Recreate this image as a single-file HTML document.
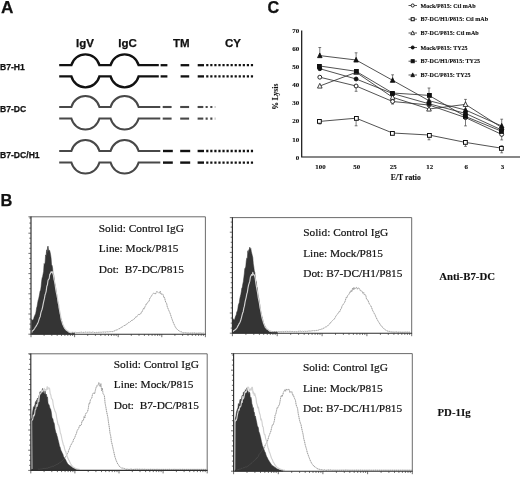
<!DOCTYPE html>
<html><head><meta charset="utf-8"><title>Figure</title>
<style>
html,body{margin:0;padding:0;background:#fff;}
svg{display:block}
.sb{font-family:"Liberation Sans",sans-serif;font-weight:bold;fill:#111;stroke:#111;stroke-width:0.25px}
.tb{font-family:"Liberation Serif",serif;font-weight:bold;fill:#111;stroke:#111;stroke-width:0.12px}
.tr{white-space:pre;font-family:"Liberation Serif",serif;fill:#111;stroke:#111;stroke-width:0.2px}
</style></head><body>
<svg width="520" height="478" viewBox="0 0 520 478">
<rect width="520" height="478" fill="#fff"/>

<text class="sb" x="1" y="13.4" font-size="17.2">A</text>
<text class="sb" x="0.6" y="206.1" font-size="16.4">B</text>
<text class="sb" x="267.4" y="12.9" font-size="16.2">C</text>
<text class="sb" x="76" y="47" font-size="11.5">IgV</text>
<text class="sb" x="118.3" y="47" font-size="11.5">IgC</text>
<text class="sb" x="173" y="47" font-size="11.5">TM</text>
<text class="sb" x="225" y="47" font-size="11.5">CY</text>
<text class="sb" x="0" y="70.3" font-size="8.6">B7-H1</text>
<text class="sb" x="0" y="112.2" font-size="8.6">B7-DC</text>
<text class="sb" x="0" y="158.3" font-size="8.6">B7-DC/H1</text>
<path d="M59.2,65.2 L71.40,65.2 A14.440825688073394,14.440825688073394 0 0 1 99.40,65.2 L110.60,65.2 A14.440825688073394,14.440825688073394 0 0 1 138.60,65.2 L158.8,65.2" fill="none" stroke="#111" stroke-width="2.3" stroke-linejoin="miter"/>
<line x1="160.6" y1="65.2" x2="167.4" y2="65.2" stroke="#111" stroke-width="2.3"/>
<line x1="180.6" y1="65.2" x2="189.2" y2="65.2" stroke="#111" stroke-width="2.3"/>
<line x1="197.7" y1="65.2" x2="204" y2="65.2" stroke="#111" stroke-width="2.3"/>
<line x1="206.2" y1="65.2" x2="253.2" y2="65.2" stroke="#111" stroke-width="2.3" stroke-dasharray="2.2 1.86"/>
<path d="M59.2,76.4 L71.40,76.4 A14.440825688073394,14.440825688073394 0 0 0 99.40,76.4 L110.60,76.4 A14.440825688073394,14.440825688073394 0 0 0 138.60,76.4 L158.8,76.4" fill="none" stroke="#111" stroke-width="2.3" stroke-linejoin="miter"/>
<line x1="160.6" y1="76.4" x2="167.4" y2="76.4" stroke="#111" stroke-width="2.3"/>
<line x1="180.6" y1="76.4" x2="189.2" y2="76.4" stroke="#111" stroke-width="2.3"/>
<line x1="197.7" y1="76.4" x2="204" y2="76.4" stroke="#111" stroke-width="2.3"/>
<line x1="206.2" y1="76.4" x2="253.2" y2="76.4" stroke="#111" stroke-width="2.3" stroke-dasharray="2.2 1.86"/>
<path d="M59.2,107 L71.40,107 A14.440825688073394,14.440825688073394 0 0 1 99.40,107 L110.60,107 A14.440825688073394,14.440825688073394 0 0 1 138.60,107 L160.3,107" fill="none" stroke="#484848" stroke-width="2.0" stroke-linejoin="miter"/>
<line x1="162.7" y1="107" x2="171.6" y2="107" stroke="#484848" stroke-width="2.1"/>
<line x1="180.2" y1="107" x2="189.1" y2="107" stroke="#484848" stroke-width="2.1"/>
<line x1="197.6" y1="107" x2="203.3" y2="107" stroke="#484848" stroke-width="2.1"/>
<line x1="205.6" y1="107" x2="212.6" y2="107" stroke="#484848" stroke-width="2.1" stroke-dasharray="2.1 2.6"/>
<line x1="214.6" y1="107" x2="215.6" y2="107" stroke="#bbb" stroke-width="2.1"/>
<path d="M59.2,118.6 L71.40,118.6 A14.440825688073394,14.440825688073394 0 0 0 99.40,118.6 L110.60,118.6 A14.440825688073394,14.440825688073394 0 0 0 138.60,118.6 L160.3,118.6" fill="none" stroke="#484848" stroke-width="2.0" stroke-linejoin="miter"/>
<line x1="162.7" y1="118.6" x2="171.6" y2="118.6" stroke="#484848" stroke-width="2.1"/>
<line x1="180.2" y1="118.6" x2="189.1" y2="118.6" stroke="#484848" stroke-width="2.1"/>
<line x1="197.6" y1="118.6" x2="203.3" y2="118.6" stroke="#484848" stroke-width="2.1"/>
<line x1="205.6" y1="118.6" x2="212.6" y2="118.6" stroke="#484848" stroke-width="2.1" stroke-dasharray="2.1 2.6"/>
<line x1="214.6" y1="118.6" x2="215.6" y2="118.6" stroke="#bbb" stroke-width="2.1"/>
<path d="M59.2,151 L71.40,151 A14.440825688073394,14.440825688073394 0 0 1 99.40,151 L110.60,151 A14.440825688073394,14.440825688073394 0 0 1 138.60,151 L160.3,151" fill="none" stroke="#484848" stroke-width="2.0" stroke-linejoin="miter"/>
<line x1="163" y1="151" x2="172.8" y2="151" stroke="#111" stroke-width="2.4"/>
<line x1="180.2" y1="151" x2="190.2" y2="151" stroke="#111" stroke-width="2.4"/>
<line x1="197.6" y1="151" x2="204" y2="151" stroke="#111" stroke-width="2.4"/>
<line x1="206.2" y1="151" x2="253.2" y2="151" stroke="#111" stroke-width="2.4" stroke-dasharray="2.2 1.86"/>
<path d="M59.2,162.6 L71.40,162.6 A14.440825688073394,14.440825688073394 0 0 0 99.40,162.6 L110.60,162.6 A14.440825688073394,14.440825688073394 0 0 0 138.60,162.6 L160.3,162.6" fill="none" stroke="#484848" stroke-width="2.0" stroke-linejoin="miter"/>
<line x1="163" y1="162.6" x2="172.8" y2="162.6" stroke="#111" stroke-width="2.4"/>
<line x1="180.2" y1="162.6" x2="190.2" y2="162.6" stroke="#111" stroke-width="2.4"/>
<line x1="197.6" y1="162.6" x2="204" y2="162.6" stroke="#111" stroke-width="2.4"/>
<line x1="206.2" y1="162.6" x2="253.2" y2="162.6" stroke="#111" stroke-width="2.4" stroke-dasharray="2.2 1.86"/>
<path d="M301.7,30.5 V157.0 H520" fill="none" stroke="#111" stroke-width="1.2"/>
<text class="tb" x="299.3" y="159.7" font-size="7" text-anchor="end">0</text>
<text class="tb" x="299.3" y="141.5" font-size="7" text-anchor="end">10</text>
<text class="tb" x="299.3" y="123.4" font-size="7" text-anchor="end">20</text>
<text class="tb" x="299.3" y="105.3" font-size="7" text-anchor="end">30</text>
<text class="tb" x="299.3" y="87.1" font-size="7" text-anchor="end">40</text>
<text class="tb" x="299.3" y="69.0" font-size="7" text-anchor="end">50</text>
<text class="tb" x="299.3" y="50.8" font-size="7" text-anchor="end">60</text>
<text class="tb" x="299.3" y="32.7" font-size="7" text-anchor="end">70</text>
<text class="tb" x="320.5" y="168.6" font-size="6.9" text-anchor="middle">100</text>
<text class="tb" x="356.8" y="168.6" font-size="6.9" text-anchor="middle">50</text>
<text class="tb" x="393.3" y="168.6" font-size="6.9" text-anchor="middle">25</text>
<text class="tb" x="429.7" y="168.6" font-size="6.9" text-anchor="middle">12</text>
<text class="tb" x="466.2" y="168.6" font-size="6.9" text-anchor="middle">6</text>
<text class="tb" x="502.4" y="168.6" font-size="6.9" text-anchor="middle">3</text>
<text class="tb" x="405.8" y="180" font-size="7.7" text-anchor="middle">E/T ratio</text>
<text class="tb" transform="translate(277.6,96.7) rotate(-90)" font-size="7.7" text-anchor="middle">% Lysis</text>
<path d="M356.1,86 V91.3 M354.70000000000005,91.3 h2.8 " stroke="#444" stroke-width="0.7" fill="none"/>
<path d="M392.6,101.5 V104.1 M391.20000000000005,104.1 h2.8 " stroke="#444" stroke-width="0.7" fill="none"/>
<path d="M501.7,134.4 V139.9 M500.3,139.9 h2.8 " stroke="#444" stroke-width="0.7" fill="none"/>
<path d="M319.8,121.4 V124.0 M318.40000000000003,124.0 h2.8 " stroke="#444" stroke-width="0.7" fill="none"/>
<path d="M356.1,118.2 V125.8 M354.70000000000005,125.8 h2.8 " stroke="#444" stroke-width="0.7" fill="none"/>
<path d="M429,135 V139.8 M427.6,139.8 h2.8 " stroke="#444" stroke-width="0.7" fill="none"/>
<path d="M465.5,142.4 V146.4 M464.1,146.4 h2.8 " stroke="#444" stroke-width="0.7" fill="none"/>
<path d="M501.7,148.2 V145.7 M500.3,145.7 h2.8 M501.7,148.2 V152.8 M500.3,152.8 h2.8 " stroke="#444" stroke-width="0.7" fill="none"/>
<path d="M465.5,104.4 V99.4 M464.1,99.4 h2.8 " stroke="#444" stroke-width="0.7" fill="none"/>
<path d="M429,95.4 V88.0 M427.6,88.0 h2.8 " stroke="#444" stroke-width="0.7" fill="none"/>
<path d="M465.5,116.5 V125.9 M464.1,125.9 h2.8 " stroke="#444" stroke-width="0.7" fill="none"/>
<path d="M319.8,55.6 V47.5 M318.40000000000003,47.5 h2.8 " stroke="#444" stroke-width="0.7" fill="none"/>
<path d="M356.1,60 V52.8 M354.70000000000005,52.8 h2.8 " stroke="#444" stroke-width="0.7" fill="none"/>
<path d="M392.6,80.3 V74.8 M391.20000000000005,74.8 h2.8 " stroke="#444" stroke-width="0.7" fill="none"/>
<path d="M501.7,126 V119.2 M500.3,119.2 h2.8 " stroke="#444" stroke-width="0.7" fill="none"/>
<polyline points="319.8,77.2 356.1,86 392.6,101.5 429,105 465.5,117.6 501.7,134.4" fill="none" stroke="#333" stroke-width="0.85"/>
<polyline points="319.8,121.4 356.1,118.2 392.6,133 429,135 465.5,142.4 501.7,148.2" fill="none" stroke="#333" stroke-width="0.85"/>
<polyline points="319.8,86 356.1,72.3 392.6,97.3 429,109 465.5,104.4 501.7,127.5" fill="none" stroke="#333" stroke-width="0.85"/>
<polyline points="319.8,68.7 356.1,79 392.6,93.5 429,103.8 465.5,113.4 501.7,130" fill="none" stroke="#333" stroke-width="0.85"/>
<polyline points="319.8,66 356.1,71.3 392.6,93 429,95.4 465.5,116.5 501.7,131.3" fill="none" stroke="#333" stroke-width="0.85"/>
<polyline points="319.8,55.6 356.1,60 392.6,80.3 429,100.7 465.5,110 501.7,126" fill="none" stroke="#333" stroke-width="0.85"/>
<circle cx="319.8" cy="77.2" r="1.95" fill="#fff" stroke="#111" stroke-width="0.9"/>
<circle cx="356.1" cy="86" r="1.95" fill="#fff" stroke="#111" stroke-width="0.9"/>
<circle cx="392.6" cy="101.5" r="1.95" fill="#fff" stroke="#111" stroke-width="0.9"/>
<circle cx="429" cy="105" r="1.95" fill="#fff" stroke="#111" stroke-width="0.9"/>
<circle cx="465.5" cy="117.6" r="1.95" fill="#fff" stroke="#111" stroke-width="0.9"/>
<circle cx="501.7" cy="134.4" r="1.95" fill="#fff" stroke="#111" stroke-width="0.9"/>
<rect x="317.50" y="119.50" width="3.80" height="3.80" fill="#fff" stroke="#111" stroke-width="1"/>
<rect x="354.50" y="116.50" width="3.80" height="3.80" fill="#fff" stroke="#111" stroke-width="1"/>
<rect x="390.50" y="131.50" width="3.80" height="3.80" fill="#fff" stroke="#111" stroke-width="1"/>
<rect x="427.50" y="133.50" width="3.80" height="3.80" fill="#fff" stroke="#111" stroke-width="1"/>
<rect x="463.50" y="140.50" width="3.80" height="3.80" fill="#fff" stroke="#111" stroke-width="1"/>
<rect x="499.50" y="146.50" width="3.80" height="3.80" fill="#fff" stroke="#111" stroke-width="1"/>
<path d="M319.8,83.36 L322.10,88.07 L317.50,88.07 Z" fill="#fff" stroke="#111" stroke-width="0.8"/>
<path d="M356.1,69.66 L358.40,74.37 L353.80,74.37 Z" fill="#fff" stroke="#111" stroke-width="0.8"/>
<path d="M392.6,94.66 L394.90,99.37 L390.30,99.37 Z" fill="#fff" stroke="#111" stroke-width="0.8"/>
<path d="M429,106.36 L431.30,111.07 L426.70,111.07 Z" fill="#fff" stroke="#111" stroke-width="0.8"/>
<path d="M465.5,101.76 L467.80,106.47 L463.20,106.47 Z" fill="#fff" stroke="#111" stroke-width="0.8"/>
<path d="M501.7,124.86 L504.00,129.57 L499.40,129.57 Z" fill="#fff" stroke="#111" stroke-width="0.8"/>
<circle cx="319.8" cy="68.7" r="1.95" fill="#111" stroke="#111" stroke-width="0.9"/>
<circle cx="356.1" cy="79" r="1.95" fill="#111" stroke="#111" stroke-width="0.9"/>
<circle cx="392.6" cy="93.5" r="1.95" fill="#111" stroke="#111" stroke-width="0.9"/>
<circle cx="429" cy="103.8" r="1.95" fill="#111" stroke="#111" stroke-width="0.9"/>
<circle cx="465.5" cy="113.4" r="1.95" fill="#111" stroke="#111" stroke-width="0.9"/>
<circle cx="501.7" cy="130" r="1.95" fill="#111" stroke="#111" stroke-width="0.9"/>
<rect x="317.50" y="64.50" width="3.80" height="3.80" fill="#111" stroke="#111" stroke-width="1"/>
<rect x="354.50" y="69.50" width="3.80" height="3.80" fill="#111" stroke="#111" stroke-width="1"/>
<rect x="390.50" y="91.50" width="3.80" height="3.80" fill="#111" stroke="#111" stroke-width="1"/>
<rect x="427.50" y="93.50" width="3.80" height="3.80" fill="#111" stroke="#111" stroke-width="1"/>
<rect x="463.50" y="114.50" width="3.80" height="3.80" fill="#111" stroke="#111" stroke-width="1"/>
<rect x="499.50" y="129.50" width="3.80" height="3.80" fill="#111" stroke="#111" stroke-width="1"/>
<path d="M319.8,52.95 L322.10,57.67 L317.50,57.67 Z" fill="#111" stroke="#111" stroke-width="0.8"/>
<path d="M356.1,57.36 L358.40,62.07 L353.80,62.07 Z" fill="#111" stroke="#111" stroke-width="0.8"/>
<path d="M392.6,77.66 L394.90,82.37 L390.30,82.37 Z" fill="#111" stroke="#111" stroke-width="0.8"/>
<path d="M429,98.06 L431.30,102.77 L426.70,102.77 Z" fill="#111" stroke="#111" stroke-width="0.8"/>
<path d="M465.5,107.36 L467.80,112.07 L463.20,112.07 Z" fill="#111" stroke="#111" stroke-width="0.8"/>
<path d="M501.7,123.36 L504.00,128.07 L499.40,128.07 Z" fill="#111" stroke="#111" stroke-width="0.8"/>
<line x1="408.5" y1="5.5" x2="417" y2="5.5" stroke="#111" stroke-width="0.7"/>
<circle cx="412.7" cy="5.5" r="1.56" fill="#fff" stroke="#111" stroke-width="0.9"/>
<text class="tb" x="420.5" y="7.6" font-size="6.05">Mock/P815: Ctl mAb</text>
<line x1="408.5" y1="19.2" x2="417" y2="19.2" stroke="#111" stroke-width="0.7"/>
<rect x="411.18" y="17.68" width="3.04" height="3.04" fill="#fff" stroke="#111" stroke-width="1"/>
<text class="tb" x="420.5" y="21.3" font-size="6.05">B7-DC/H1/P815: Ctl mAb</text>
<line x1="408.5" y1="33" x2="417" y2="33" stroke="#111" stroke-width="0.7"/>
<path d="M412.7,30.88 L414.54,34.66 L410.86,34.66 Z" fill="#fff" stroke="#111" stroke-width="0.8"/>
<text class="tb" x="420.5" y="35.1" font-size="6.05">B7-DC/P815: Ctl mAb</text>
<line x1="408.5" y1="47.5" x2="417" y2="47.5" stroke="#111" stroke-width="0.7"/>
<circle cx="412.7" cy="47.5" r="1.56" fill="#111" stroke="#111" stroke-width="0.9"/>
<text class="tb" x="420.5" y="49.6" font-size="6.05">Mock/P815: TY25</text>
<line x1="408.5" y1="61.2" x2="417" y2="61.2" stroke="#111" stroke-width="0.7"/>
<rect x="411.18" y="59.68" width="3.04" height="3.04" fill="#111" stroke="#111" stroke-width="1"/>
<text class="tb" x="420.5" y="63.300000000000004" font-size="6.05">B7-DC/H1/P815: TY25</text>
<line x1="408.5" y1="75" x2="417" y2="75" stroke="#111" stroke-width="0.7"/>
<path d="M412.7,72.88 L414.54,76.66 L410.86,76.66 Z" fill="#111" stroke="#111" stroke-width="0.8"/>
<text class="tb" x="420.5" y="77.1" font-size="6.05">B7-DC/P815: TY25</text>
<path d="M70.0,332.7 L70.7,332.8 L71.4,332.4 L72.1,332.4 L72.8,332.3 L73.5,332.4 L74.2,332.4 L74.9,332.5 L75.6,332.3 L76.3,332.6 L77.0,332.6 L77.7,332.5 L78.4,332.5 L79.1,332.5 L79.8,332.4 L80.5,332.3 L81.2,332.3 L81.9,332.1 L82.6,332.5 L83.3,332.4 L84.0,332.4 L84.7,332.4 L85.4,332.1 L86.1,332.3 L86.8,332.3 L87.5,332.3 L88.2,332.3 L88.9,332.2 L89.6,332.2 L90.3,332.3 L91.0,332.3 L91.7,332.5 L92.4,332.1 L93.1,332.5 L93.8,332.1 L94.5,332.5 L95.2,332.5 L95.9,332.5 L96.6,332.4 L97.3,332.5 L98.0,332.4 L98.7,332.3 L99.4,332.3 L100.1,332.4 L100.8,332.1 L101.5,332.3 L102.2,332.0 L102.9,332.2 L103.6,332.1 L104.3,332.0 L105.0,331.8 L105.7,332.2 L106.4,331.8 L107.1,331.9 L107.8,331.8 L108.5,331.9 L109.2,331.6 L109.9,331.9 L110.6,331.6 L111.3,331.5 L112.0,331.5 L112.7,331.6 L113.4,331.3 L114.1,331.0 L114.8,330.7 L115.5,330.3 L116.2,330.1 L116.9,329.8 L117.6,329.6 L118.3,329.0 L119.0,328.8 L119.7,328.5 L120.4,327.9 L121.1,327.5 L121.8,327.2 L122.5,326.8 L123.2,326.3 L123.9,325.6 L124.6,325.5 L125.3,325.6 L126.0,324.4 L126.7,324.1 L127.4,323.8 L128.1,323.1 L128.8,322.3 L129.5,322.4 L130.2,321.7 L130.9,321.3 L131.6,320.5 L132.3,320.5 L133.0,319.8 L133.7,318.9 L134.4,318.7 L135.1,318.1 L135.8,316.9 L136.5,317.1 L137.2,316.1 L137.9,315.1 L138.6,314.2 L139.3,314.5 L140.0,314.2 L140.7,313.9 L141.4,312.1 L142.1,311.8 L142.8,310.0 L143.5,308.4 L144.2,309.0 L144.9,306.8 L145.6,305.7 L146.3,303.8 L147.0,303.6 L147.7,302.1 L148.4,301.9 L149.1,301.1 L149.8,298.4 L150.5,297.5 L151.2,296.4 L151.9,295.3 L152.6,294.2 L153.3,293.4 L154.0,292.9 L154.7,293.6 L155.4,294.1 L156.1,292.8 L156.8,291.4 L157.5,292.1 L158.2,292.7 L158.9,292.6 L159.6,292.8 L160.3,291.3 L161.0,294.4 L161.7,294.1 L162.4,294.2 L163.1,294.5 L163.8,297.5 L164.5,297.4 L165.2,300.4 L165.9,302.8 L166.6,303.2 L167.3,306.8 L168.0,308.5 L168.7,310.2 L169.4,311.7 L170.1,313.3 L170.8,315.5 L171.5,317.7 L172.2,319.6 L172.9,321.5 L173.6,323.3 L174.3,324.7 L175.0,326.3 L175.7,327.5 L176.4,328.7 L177.1,329.2 L177.8,329.7 L178.5,330.5 L179.2,331.2 L179.9,331.2 L180.6,331.8 L181.3,331.8 L182.0,332.1 L182.7,332.7 L183.4,332.8 L184.1,332.6 L184.8,332.6 L185.5,332.7 L186.2,332.9 L186.9,332.8 L187.6,333.0 L188.3,332.8 L189.0,333.2 L189.7,333.1 L190.4,333.1 L191.1,332.8 L191.8,333.1 L192.5,333.0 L193.2,332.9 L193.9,333.0 L194.6,332.9 L195.3,333.1 L196.0,333.2 L196.7,333.2 L197.4,333.2 L198.1,333.2 L198.8,333.0 L199.5,333.0 L200.2,332.9 L200.9,333.0 L201.6,333.2 L202.3,333.2 L203.0,333.1 L203.7,332.9" fill="none" stroke="#8c8c8c" stroke-width="0.8" stroke-linejoin="round" stroke-dasharray="1.3 0.6"/>
<path d="M31.6,334.2 L31.6,319.4 L32.1,320.2 L32.6,320.0 L33.1,319.5 L33.6,319.3 L34.1,317.1 L34.6,315.9 L35.1,314.7 L35.6,313.8 L36.1,311.3 L36.6,308.0 L37.1,306.3 L37.6,303.2 L38.1,300.4 L38.6,299.0 L39.1,296.6 L39.6,294.0 L40.1,291.0 L40.6,290.2 L41.1,286.6 L41.6,281.4 L42.1,277.9 L42.6,276.7 L43.1,273.9 L43.6,271.4 L44.1,263.5 L44.6,264.9 L45.1,262.4 L45.6,254.9 L46.1,255.9 L46.6,249.8 L47.1,253.1 L47.6,246.7 L48.1,246.1 L48.6,250.5 L49.1,250.3 L49.6,250.3 L50.1,252.2 L50.6,254.7 L51.1,258.2 L51.6,265.3 L52.1,265.3 L52.6,267.9 L53.1,274.0 L53.6,274.3 L54.1,277.7 L54.6,283.1 L55.1,284.5 L55.6,287.3 L56.1,291.0 L56.6,294.4 L57.1,298.9 L57.6,301.1 L58.1,302.9 L58.6,307.7 L59.1,309.2 L59.6,313.1 L60.1,314.9 L60.6,317.7 L61.1,319.0 L61.6,320.8 L62.1,322.5 L62.6,324.3 L63.1,325.6 L63.6,326.8 L64.1,327.6 L64.6,328.9 L65.1,329.2 L65.6,329.9 L66.1,330.3 L66.6,330.8 L67.1,331.3 L67.6,331.6 L68.1,332.3 L68.6,332.4 L69.1,332.6 L69.6,332.5 L70.1,333.1 L70.6,333.2 L71.1,333.2 L71.6,333.2 L72.1,333.2 L72.6,333.2 L73.1,333.2 L73.6,333.2 L74.1,333.2 L74.6,333.2 L74.6,334.2 Z" fill="#343434" stroke="#343434" stroke-width="0.5"/>
<path d="M70.0,332.7 L70.7,332.8 L71.4,332.4 L72.1,332.4 L72.8,332.3 L73.5,332.4 L74.2,332.4 L74.9,332.5 L75.6,332.3 L76.3,332.6 L77.0,332.6 L77.7,332.5 L78.4,332.5 L79.1,332.5 L79.8,332.4 L80.5,332.3 L81.2,332.3 L81.9,332.1 L82.6,332.5 L83.3,332.4 L84.0,332.4 L84.7,332.4 L85.4,332.1 L86.1,332.3 L86.8,332.3 L87.5,332.3 L88.2,332.3 L88.9,332.2 L89.6,332.2 L90.3,332.3 L91.0,332.3 L91.7,332.5 L92.4,332.1 L93.1,332.5 L93.8,332.1 L94.5,332.5 L95.2,332.5 L95.9,332.5 L96.6,332.4 L97.3,332.5 L98.0,332.4 L98.7,332.3 L99.4,332.3 L100.1,332.4 L100.8,332.1 L101.5,332.3 L102.2,332.0 L102.9,332.2 L103.6,332.1 L104.3,332.0 L105.0,331.8 L105.7,332.2 L106.4,331.8 L107.1,331.9 L107.8,331.8 L108.5,331.9 L109.2,331.6 L109.9,331.9 L110.6,331.6 L111.3,331.5 L112.0,331.5 L112.7,331.6 L113.4,331.3 L114.1,331.0 L114.8,330.7 L115.5,330.3 L116.2,330.1 L116.9,329.8 L117.6,329.6 L118.3,329.0 L119.0,328.8 L119.7,328.5 L120.4,327.9 L121.1,327.5 L121.8,327.2 L122.5,326.8 L123.2,326.3 L123.9,325.6 L124.6,325.5 L125.3,325.6 L126.0,324.4 L126.7,324.1 L127.4,323.8 L128.1,323.1 L128.8,322.3 L129.5,322.4 L130.2,321.7 L130.9,321.3 L131.6,320.5 L132.3,320.5 L133.0,319.8 L133.7,318.9 L134.4,318.7 L135.1,318.1 L135.8,316.9 L136.5,317.1 L137.2,316.1 L137.9,315.1 L138.6,314.2 L139.3,314.5 L140.0,314.2 L140.7,313.9 L141.4,312.1 L142.1,311.8 L142.8,310.0 L143.5,308.4 L144.2,309.0 L144.9,306.8 L145.6,305.7 L146.3,303.8 L147.0,303.6 L147.7,302.1 L148.4,301.9 L149.1,301.1 L149.8,298.4 L150.5,297.5 L151.2,296.4 L151.9,295.3 L152.6,294.2 L153.3,293.4 L154.0,292.9 L154.7,293.6 L155.4,294.1 L156.1,292.8 L156.8,291.4 L157.5,292.1 L158.2,292.7 L158.9,292.6 L159.6,292.8 L160.3,291.3 L161.0,294.4 L161.7,294.1 L162.4,294.2 L163.1,294.5 L163.8,297.5 L164.5,297.4 L165.2,300.4 L165.9,302.8 L166.6,303.2 L167.3,306.8 L168.0,308.5 L168.7,310.2 L169.4,311.7 L170.1,313.3 L170.8,315.5 L171.5,317.7 L172.2,319.6 L172.9,321.5 L173.6,323.3 L174.3,324.7 L175.0,326.3 L175.7,327.5 L176.4,328.7 L177.1,329.2 L177.8,329.7 L178.5,330.5 L179.2,331.2 L179.9,331.2 L180.6,331.8 L181.3,331.8 L182.0,332.1 L182.7,332.7 L183.4,332.8 L184.1,332.6 L184.8,332.6 L185.5,332.7 L186.2,332.9 L186.9,332.8 L187.6,333.0 L188.3,332.8 L189.0,333.2 L189.7,333.1 L190.4,333.1 L191.1,332.8 L191.8,333.1 L192.5,333.0 L193.2,332.9 L193.9,333.0 L194.6,332.9 L195.3,333.1 L196.0,333.2 L196.7,333.2 L197.4,333.2 L198.1,333.2 L198.8,333.0 L199.5,333.0 L200.2,332.9 L200.9,333.0 L201.6,333.2 L202.3,333.2 L203.0,333.1 L203.7,332.9" fill="none" stroke="#8e8e8e" stroke-width="0.8" stroke-linejoin="round" opacity="0.22"/>
<path d="M32.1,332.7 L31.8,331.6 L32.4,331.0 L33.0,330.4 L33.6,330.0 L34.2,329.2 L34.8,328.3 L35.4,327.1 L36.0,326.4 L36.6,325.3 L37.2,324.2 L37.8,323.0 L38.4,321.7 L39.0,319.7 L39.6,317.8 L40.2,316.7 L40.8,313.2 L41.4,311.1 L42.0,309.5 L42.6,307.1 L43.2,303.8 L43.8,301.2 L44.4,298.7 L45.0,295.0 L45.6,293.4 L46.2,291.1 L46.8,286.3 L47.4,285.1 L48.0,280.4 L48.6,279.2 L49.2,278.8 L49.8,274.0 L50.4,274.0 L51.0,271.9 L51.6,272.3 L52.2,271.6 L52.8,273.5 L53.4,275.0 L54.0,279.3 L54.6,281.5 L55.2,285.3 L55.8,289.6 L56.4,292.8 L57.0,295.1 L57.6,298.6 L58.2,303.1 L58.8,304.8 L59.4,309.7 L60.0,312.3 L60.6,315.7 L61.2,319.7 L61.8,321.1 L62.4,323.3 L63.0,325.0 L63.6,326.0 L64.2,327.4 L64.8,328.4 L65.4,329.0 L66.0,329.8 L66.6,330.3 L67.2,330.7 L67.8,331.0 L68.4,331.3 L69.0,331.9 L69.6,332.3 L70.2,332.2 L70.8,332.7 L71.4,332.7 L72.0,332.9" fill="none" stroke="#d2d2d2" stroke-width="1.15" stroke-linejoin="round"/>
<path d="M31,216.8 H205.4 V334.2" fill="none" stroke="#5a5a5a" stroke-width="0.9"/>
<path d="M31,216.4 V334.2 H205.8" fill="none" stroke="#2e2e2e" stroke-width="1.15"/>
<path d="M31.0,334.2 v3.0 M44.1,334.2 v1.7 M51.8,334.2 v1.7 M57.2,334.2 v1.7 M61.5,334.2 v1.7 M64.9,334.2 v1.7 M67.8,334.2 v1.7 M70.4,334.2 v1.7 M72.6,334.2 v1.7 M74.6,334.2 v3.0 M87.7,334.2 v1.7 M95.4,334.2 v1.7 M100.8,334.2 v1.7 M105.1,334.2 v1.7 M108.5,334.2 v1.7 M111.4,334.2 v1.7 M114.0,334.2 v1.7 M116.2,334.2 v1.7 M118.2,334.2 v3.0 M131.3,334.2 v1.7 M139.0,334.2 v1.7 M144.4,334.2 v1.7 M148.7,334.2 v1.7 M152.1,334.2 v1.7 M155.0,334.2 v1.7 M157.6,334.2 v1.7 M159.8,334.2 v1.7 M161.8,334.2 v3.0 M174.9,334.2 v1.7 M182.6,334.2 v1.7 M188.0,334.2 v1.7 M192.3,334.2 v1.7 M195.7,334.2 v1.7 M198.6,334.2 v1.7 M201.2,334.2 v1.7 M203.4,334.2 v1.7 M205.4,334.2 v3.0" stroke="#333" stroke-width="0.7" fill="none"/>
<path d="M31,334.2 h-2.6 M31,329.1 h-1.7 M31,324.1 h-1.7 M31,319.0 h-1.7 M31,314.0 h-2.6 M31,308.9 h-1.7 M31,303.9 h-1.7 M31,298.8 h-1.7 M31,293.8 h-2.6 M31,288.7 h-1.7 M31,283.7 h-1.7 M31,278.6 h-1.7 M31,273.6 h-2.6 M31,268.5 h-1.7 M31,263.5 h-1.7 M31,258.4 h-1.7 M31,253.4 h-2.6 M31,248.3 h-1.7 M31,243.3 h-1.7 M31,238.2 h-1.7 M31,233.2 h-2.6 M31,228.1 h-1.7 M31,223.1 h-1.7 M31,218.0 h-1.7 M31,216.8 h-2.6" stroke="#333" stroke-width="0.7" fill="none"/>
<text class="tr" x="98.8" y="231.6" font-size="11.35">Solid: Control IgG</text>
<text class="tr" x="98.8" y="252" font-size="11.35">Line: Mock/P815</text>
<text class="tr" x="98.8" y="272.5" font-size="11.35">Dot:  B7-DC/P815</text>
<path d="M272.0,332.0 L272.7,331.6 L273.4,331.7 L274.1,331.6 L274.8,331.7 L275.5,331.7 L276.2,331.5 L276.9,331.7 L277.6,331.8 L278.3,331.5 L279.0,331.7 L279.7,331.7 L280.4,331.6 L281.1,331.6 L281.8,331.7 L282.5,331.4 L283.2,331.7 L283.9,331.6 L284.6,331.4 L285.3,331.5 L286.0,331.4 L286.7,331.3 L287.4,331.4 L288.1,331.7 L288.8,331.4 L289.5,331.4 L290.2,331.5 L290.9,331.3 L291.6,331.6 L292.3,331.4 L293.0,331.7 L293.7,331.7 L294.4,331.7 L295.1,331.4 L295.8,331.6 L296.5,331.7 L297.2,331.6 L297.9,331.6 L298.6,331.3 L299.3,331.3 L300.0,331.1 L300.7,331.2 L301.4,331.6 L302.1,331.1 L302.8,331.2 L303.5,331.5 L304.2,331.2 L304.9,331.3 L305.6,331.4 L306.3,331.4 L307.0,331.1 L307.7,331.3 L308.4,331.0 L309.1,331.0 L309.8,331.0 L310.5,331.1 L311.2,330.9 L311.9,330.9 L312.6,330.7 L313.3,330.6 L314.0,330.7 L314.7,330.7 L315.4,330.6 L316.1,330.3 L316.8,330.6 L317.5,330.4 L318.2,330.2 L318.9,329.9 L319.6,329.5 L320.3,329.5 L321.0,329.3 L321.7,329.0 L322.4,328.9 L323.1,328.5 L323.8,328.1 L324.5,327.8 L325.2,327.2 L325.9,326.8 L326.6,326.7 L327.3,326.0 L328.0,325.7 L328.7,324.9 L329.4,324.0 L330.1,323.0 L330.8,322.6 L331.5,321.6 L332.2,320.8 L332.9,320.3 L333.6,319.6 L334.3,318.8 L335.0,318.2 L335.7,316.4 L336.4,315.5 L337.1,314.6 L337.8,313.6 L338.5,312.9 L339.2,311.4 L339.9,311.5 L340.6,309.3 L341.3,308.8 L342.0,306.1 L342.7,305.0 L343.4,304.2 L344.1,303.0 L344.8,302.1 L345.5,300.0 L346.2,297.4 L346.9,297.8 L347.6,295.5 L348.3,294.9 L349.0,294.4 L349.7,292.2 L350.4,292.5 L351.1,290.4 L351.8,291.7 L352.5,288.3 L353.2,290.0 L353.9,287.3 L354.6,289.3 L355.3,288.2 L356.0,287.6 L356.7,287.4 L357.4,289.2 L358.1,288.0 L358.8,288.1 L359.5,288.6 L360.2,290.3 L360.9,291.2 L361.6,290.8 L362.3,291.7 L363.0,293.5 L363.7,292.6 L364.4,294.9 L365.1,294.7 L365.8,295.2 L366.5,299.1 L367.2,299.8 L367.9,300.0 L368.6,302.1 L369.3,303.7 L370.0,304.9 L370.7,305.6 L371.4,307.2 L372.1,308.9 L372.8,311.0 L373.5,311.8 L374.2,313.4 L374.9,314.3 L375.6,316.2 L376.3,317.8 L377.0,319.1 L377.7,320.5 L378.4,321.6 L379.1,323.0 L379.8,323.6 L380.5,325.2 L381.2,325.7 L381.9,326.2 L382.6,327.6 L383.3,328.2 L384.0,328.5 L384.7,329.4 L385.4,329.9 L386.1,330.4 L386.8,330.6 L387.5,331.0 L388.2,331.2 L388.9,331.4 L389.6,331.4 L390.3,331.8 L391.0,331.8 L391.7,331.9 L392.4,332.0 L393.1,331.9 L393.8,332.1 L394.5,332.1 L395.2,331.9 L395.9,332.1 L396.6,331.9 L397.3,332.2 L398.0,331.9 L398.7,332.2 L399.4,332.0 L400.1,332.2 L400.8,332.1 L401.5,332.2 L402.2,332.2 L402.9,332.2 L403.6,332.2 L404.3,332.2 L405.0,332.1 L405.7,332.0 L406.4,332.2 L407.1,332.0 L407.8,332.1 L408.5,332.2 L409.2,332.2 L409.9,332.0" fill="none" stroke="#8c8c8c" stroke-width="0.8" stroke-linejoin="round" stroke-dasharray="1.3 0.6"/>
<path d="M232.8,333.2 L232.8,318.4 L233.3,319.4 L233.8,319.5 L234.3,319.9 L234.8,318.8 L235.3,317.0 L235.8,315.8 L236.3,314.5 L236.8,311.8 L237.3,311.3 L237.8,309.0 L238.3,305.2 L238.8,303.7 L239.3,302.5 L239.8,298.7 L240.3,296.4 L240.8,294.6 L241.3,291.6 L241.8,288.1 L242.3,287.3 L242.8,283.9 L243.3,281.7 L243.8,277.7 L244.3,273.8 L244.8,268.4 L245.3,268.3 L245.8,266.2 L246.3,260.6 L246.8,258.0 L247.3,258.4 L247.8,250.7 L248.3,252.9 L248.8,249.7 L249.3,249.3 L249.8,247.1 L250.3,249.5 L250.8,248.3 L251.3,251.5 L251.8,253.5 L252.3,255.6 L252.8,257.6 L253.3,263.9 L253.8,266.7 L254.3,271.1 L254.8,272.2 L255.3,277.5 L255.8,280.3 L256.3,281.7 L256.8,286.6 L257.3,287.8 L257.8,293.0 L258.3,296.3 L258.8,298.4 L259.3,302.1 L259.8,304.9 L260.3,309.7 L260.8,311.8 L261.3,313.8 L261.8,316.2 L262.3,317.3 L262.8,320.2 L263.3,322.0 L263.8,323.4 L264.3,324.9 L264.8,325.9 L265.3,326.8 L265.8,327.9 L266.3,328.1 L266.8,328.9 L267.3,329.2 L267.8,330.0 L268.3,330.2 L268.8,330.4 L269.3,330.9 L269.8,331.4 L270.3,331.3 L270.8,331.5 L271.3,331.6 L271.8,331.7 L272.3,332.1 L272.8,331.8 L273.3,332.2 L273.8,332.2 L274.3,332.2 L274.8,332.2 L275.3,332.2 L275.8,332.2 L276.3,332.2 L276.8,332.2 L277.3,332.2 L277.3,333.2 Z" fill="#343434" stroke="#343434" stroke-width="0.5"/>
<path d="M272.0,332.0 L272.7,331.6 L273.4,331.7 L274.1,331.6 L274.8,331.7 L275.5,331.7 L276.2,331.5 L276.9,331.7 L277.6,331.8 L278.3,331.5 L279.0,331.7 L279.7,331.7 L280.4,331.6 L281.1,331.6 L281.8,331.7 L282.5,331.4 L283.2,331.7 L283.9,331.6 L284.6,331.4 L285.3,331.5 L286.0,331.4 L286.7,331.3 L287.4,331.4 L288.1,331.7 L288.8,331.4 L289.5,331.4 L290.2,331.5 L290.9,331.3 L291.6,331.6 L292.3,331.4 L293.0,331.7 L293.7,331.7 L294.4,331.7 L295.1,331.4 L295.8,331.6 L296.5,331.7 L297.2,331.6 L297.9,331.6 L298.6,331.3 L299.3,331.3 L300.0,331.1 L300.7,331.2 L301.4,331.6 L302.1,331.1 L302.8,331.2 L303.5,331.5 L304.2,331.2 L304.9,331.3 L305.6,331.4 L306.3,331.4 L307.0,331.1 L307.7,331.3 L308.4,331.0 L309.1,331.0 L309.8,331.0 L310.5,331.1 L311.2,330.9 L311.9,330.9 L312.6,330.7 L313.3,330.6 L314.0,330.7 L314.7,330.7 L315.4,330.6 L316.1,330.3 L316.8,330.6 L317.5,330.4 L318.2,330.2 L318.9,329.9 L319.6,329.5 L320.3,329.5 L321.0,329.3 L321.7,329.0 L322.4,328.9 L323.1,328.5 L323.8,328.1 L324.5,327.8 L325.2,327.2 L325.9,326.8 L326.6,326.7 L327.3,326.0 L328.0,325.7 L328.7,324.9 L329.4,324.0 L330.1,323.0 L330.8,322.6 L331.5,321.6 L332.2,320.8 L332.9,320.3 L333.6,319.6 L334.3,318.8 L335.0,318.2 L335.7,316.4 L336.4,315.5 L337.1,314.6 L337.8,313.6 L338.5,312.9 L339.2,311.4 L339.9,311.5 L340.6,309.3 L341.3,308.8 L342.0,306.1 L342.7,305.0 L343.4,304.2 L344.1,303.0 L344.8,302.1 L345.5,300.0 L346.2,297.4 L346.9,297.8 L347.6,295.5 L348.3,294.9 L349.0,294.4 L349.7,292.2 L350.4,292.5 L351.1,290.4 L351.8,291.7 L352.5,288.3 L353.2,290.0 L353.9,287.3 L354.6,289.3 L355.3,288.2 L356.0,287.6 L356.7,287.4 L357.4,289.2 L358.1,288.0 L358.8,288.1 L359.5,288.6 L360.2,290.3 L360.9,291.2 L361.6,290.8 L362.3,291.7 L363.0,293.5 L363.7,292.6 L364.4,294.9 L365.1,294.7 L365.8,295.2 L366.5,299.1 L367.2,299.8 L367.9,300.0 L368.6,302.1 L369.3,303.7 L370.0,304.9 L370.7,305.6 L371.4,307.2 L372.1,308.9 L372.8,311.0 L373.5,311.8 L374.2,313.4 L374.9,314.3 L375.6,316.2 L376.3,317.8 L377.0,319.1 L377.7,320.5 L378.4,321.6 L379.1,323.0 L379.8,323.6 L380.5,325.2 L381.2,325.7 L381.9,326.2 L382.6,327.6 L383.3,328.2 L384.0,328.5 L384.7,329.4 L385.4,329.9 L386.1,330.4 L386.8,330.6 L387.5,331.0 L388.2,331.2 L388.9,331.4 L389.6,331.4 L390.3,331.8 L391.0,331.8 L391.7,331.9 L392.4,332.0 L393.1,331.9 L393.8,332.1 L394.5,332.1 L395.2,331.9 L395.9,332.1 L396.6,331.9 L397.3,332.2 L398.0,331.9 L398.7,332.2 L399.4,332.0 L400.1,332.2 L400.8,332.1 L401.5,332.2 L402.2,332.2 L402.9,332.2 L403.6,332.2 L404.3,332.2 L405.0,332.1 L405.7,332.0 L406.4,332.2 L407.1,332.0 L407.8,332.1 L408.5,332.2 L409.2,332.2 L409.9,332.0" fill="none" stroke="#8e8e8e" stroke-width="0.8" stroke-linejoin="round" opacity="0.22"/>
<path d="M233.5,331.7 L233.0,330.8 L233.6,331.0 L234.2,330.3 L234.8,330.1 L235.4,329.5 L236.0,329.0 L236.6,328.4 L237.2,327.5 L237.8,326.0 L238.4,325.4 L239.0,323.8 L239.6,323.1 L240.2,321.8 L240.8,320.0 L241.4,317.9 L242.0,315.4 L242.6,313.1 L243.2,311.7 L243.8,308.2 L244.4,306.2 L245.0,302.4 L245.6,299.6 L246.2,297.3 L246.8,293.9 L247.4,292.2 L248.0,287.8 L248.6,284.9 L249.2,283.1 L249.8,281.2 L250.4,277.0 L251.0,275.8 L251.6,274.6 L252.2,275.3 L252.8,272.3 L253.4,274.8 L254.0,274.6 L254.6,275.8 L255.2,278.1 L255.8,282.9 L256.4,286.3 L257.0,289.8 L257.6,292.8 L258.2,297.3 L258.8,300.5 L259.4,303.2 L260.0,307.6 L260.6,310.0 L261.2,313.4 L261.8,316.8 L262.4,319.2 L263.0,320.8 L263.6,323.1 L264.2,324.6 L264.8,326.0 L265.4,327.4 L266.0,328.0 L266.6,328.8 L267.2,329.3 L267.8,329.6 L268.4,330.0 L269.0,330.6 L269.6,331.1 L270.2,331.0 L270.8,331.1 L271.4,331.5 L272.0,331.7 L272.6,331.6" fill="none" stroke="#d2d2d2" stroke-width="1.15" stroke-linejoin="round"/>
<path d="M232.4,217.6 H411.7 V333.2" fill="none" stroke="#5a5a5a" stroke-width="0.9"/>
<path d="M232.4,217.2 V333.2 H412.09999999999997" fill="none" stroke="#2e2e2e" stroke-width="1.15"/>
<path d="M232.4,333.2 v3.0 M245.9,333.2 v1.7 M253.8,333.2 v1.7 M259.4,333.2 v1.7 M263.7,333.2 v1.7 M267.3,333.2 v1.7 M270.3,333.2 v1.7 M272.9,333.2 v1.7 M275.2,333.2 v1.7 M277.2,333.2 v3.0 M290.7,333.2 v1.7 M298.6,333.2 v1.7 M304.2,333.2 v1.7 M308.6,333.2 v1.7 M312.1,333.2 v1.7 M315.1,333.2 v1.7 M317.7,333.2 v1.7 M320.0,333.2 v1.7 M322.1,333.2 v3.0 M335.5,333.2 v1.7 M343.4,333.2 v1.7 M349.0,333.2 v1.7 M353.4,333.2 v1.7 M356.9,333.2 v1.7 M359.9,333.2 v1.7 M362.5,333.2 v1.7 M364.8,333.2 v1.7 M366.9,333.2 v3.0 M380.4,333.2 v1.7 M388.3,333.2 v1.7 M393.9,333.2 v1.7 M398.2,333.2 v1.7 M401.8,333.2 v1.7 M404.8,333.2 v1.7 M407.4,333.2 v1.7 M409.6,333.2 v1.7 M411.7,333.2 v3.0" stroke="#333" stroke-width="0.7" fill="none"/>
<path d="M232.4,333.2 h-2.6 M232.4,328.1 h-1.7 M232.4,323.1 h-1.7 M232.4,318.0 h-1.7 M232.4,313.0 h-2.6 M232.4,307.9 h-1.7 M232.4,302.9 h-1.7 M232.4,297.8 h-1.7 M232.4,292.8 h-2.6 M232.4,287.7 h-1.7 M232.4,282.7 h-1.7 M232.4,277.6 h-1.7 M232.4,272.6 h-2.6 M232.4,267.5 h-1.7 M232.4,262.5 h-1.7 M232.4,257.4 h-1.7 M232.4,252.4 h-2.6 M232.4,247.3 h-1.7 M232.4,242.3 h-1.7 M232.4,237.2 h-1.7 M232.4,232.2 h-2.6 M232.4,227.1 h-1.7 M232.4,222.1 h-1.7 M232.4,217.6 h-2.6" stroke="#333" stroke-width="0.7" fill="none"/>
<text class="tr" x="303.2" y="236.4" font-size="11.35">Solid: Control IgG</text>
<text class="tr" x="303.2" y="256.6" font-size="11.35">Line: Mock/P815</text>
<text class="tr" x="303.2" y="277.3" font-size="11.35">Dot: B7-DC/H1/P815</text>
<path d="M37.9,469.4 L38.6,469.2 L39.3,469.4 L40.0,469.0 L40.7,469.1 L41.4,469.1 L42.1,468.8 L42.8,468.8 L43.5,468.5 L44.2,468.3 L44.9,468.6 L45.6,468.5 L46.3,468.3 L47.0,467.9 L47.7,468.2 L48.4,467.6 L49.1,467.8 L49.8,467.3 L50.5,467.0 L51.2,466.9 L51.9,466.6 L52.6,466.2 L53.3,466.3 L54.0,466.1 L54.7,465.4 L55.4,465.2 L56.1,464.8 L56.8,464.4 L57.5,464.2 L58.2,463.7 L58.9,463.5 L59.6,462.6 L60.3,462.3 L61.0,461.8 L61.7,461.2 L62.4,460.6 L63.1,459.9 L63.8,459.1 L64.5,458.5 L65.2,457.0 L65.9,456.7 L66.6,455.2 L67.3,453.7 L68.0,452.9 L68.7,450.3 L69.4,448.9 L70.1,446.8 L70.8,445.2 L71.5,444.1 L72.2,442.7 L72.9,441.9 L73.6,439.2 L74.3,438.8 L75.0,436.8 L75.7,434.9 L76.4,433.6 L77.1,430.8 L77.8,429.6 L78.5,428.8 L79.2,426.7 L79.9,424.9 L80.6,425.6 L81.3,425.1 L82.0,420.8 L82.7,420.8 L83.4,420.5 L84.1,416.5 L84.8,418.0 L85.5,414.0 L86.2,413.1 L86.9,412.6 L87.6,411.4 L88.3,408.5 L89.0,403.2 L89.7,403.8 L90.4,399.7 L91.1,399.1 L91.8,397.9 L92.5,394.4 L93.2,393.0 L93.9,393.0 L94.6,393.8 L95.3,390.6 L96.0,387.8 L96.7,385.8 L97.4,386.1 L98.1,385.1 L98.8,382.5 L99.5,384.4 L100.2,386.7 L100.9,383.6 L101.6,390.6 L102.3,388.1 L103.0,393.5 L103.7,394.5 L104.4,395.9 L105.1,403.2 L105.8,406.8 L106.5,411.0 L107.2,414.3 L107.9,417.7 L108.6,423.1 L109.3,427.2 L110.0,433.2 L110.7,435.9 L111.4,441.6 L112.1,444.2 L112.8,447.4 L113.5,450.6 L114.2,453.6 L114.9,456.8 L115.6,458.8 L116.3,460.9 L117.0,462.3 L117.7,464.0 L118.4,464.6 L119.1,466.2 L119.8,466.7 L120.5,467.3 L121.2,467.9 L121.9,467.9 L122.6,468.1 L123.3,468.2 L124.0,468.7 L124.7,468.6 L125.4,469.1 L126.1,469.2 L126.8,469.3 L127.5,469.1 L128.2,469.4 L128.9,469.3 L129.6,469.4 L130.3,469.1 L131.0,469.2 L131.7,469.2 L132.4,469.4 L133.1,469.4 L133.8,469.4 L134.5,469.2 L135.2,469.4 L135.9,469.1 L136.6,469.1 L137.3,469.2 L138.0,469.3 L138.7,469.3 L139.4,469.2 L140.1,469.1 L140.8,469.4 L141.5,469.3 L142.2,469.2 L142.9,469.3 L143.6,469.4 L144.3,469.2 L145.0,469.4 L145.7,469.3 L146.4,469.4 L147.1,469.4 L147.8,469.3 L148.5,469.4 L149.2,469.4 L149.9,469.4 L150.6,469.3 L151.3,469.4 L152.0,469.4 L152.7,469.4 L153.4,469.3 L154.1,469.4 L154.8,469.4 L155.5,469.4 L156.2,469.4 L156.9,469.3 L157.6,469.3 L158.3,469.4 L159.0,469.4 L159.7,469.4 L160.4,469.4 L161.1,469.4 L161.8,469.4 L162.5,469.4 L163.2,469.4 L163.9,469.4 L164.6,469.4 L165.3,469.4 L166.0,469.4 L166.7,469.4 L167.4,469.4 L168.1,469.4 L168.8,469.4 L169.5,469.3 L170.2,469.4 L170.9,469.4 L171.6,469.4 L172.3,469.4 L173.0,469.4 L173.7,469.4 L174.4,469.3 L175.1,469.4 L175.8,469.4 L176.5,469.4 L177.2,469.4 L177.9,469.4 L178.6,469.4 L179.3,469.3 L180.0,469.4 L180.7,469.4 L181.4,469.4 L182.1,469.4 L182.8,469.3 L183.5,469.4 L184.2,469.4 L184.9,469.4 L185.6,469.4 L186.3,469.4 L187.0,469.4 L187.7,469.4 L188.4,469.4 L189.1,469.4 L189.8,469.4 L190.5,469.4 L191.2,469.4 L191.9,469.4 L192.6,469.4 L193.3,469.4 L194.0,469.4 L194.7,469.4 L195.4,469.4 L196.1,469.4 L196.8,469.4 L197.5,469.4 L198.2,469.4 L198.9,469.4 L199.6,469.4 L200.3,469.4 L201.0,469.4 L201.7,469.4 L202.4,469.4 L203.1,469.4 L203.8,469.4 L204.5,469.4 L205.2,469.4 L205.9,469.4" fill="none" stroke="#8c8c8c" stroke-width="0.8" stroke-linejoin="round" stroke-dasharray="1.3 0.6"/>
<path d="M31.5,470.4 L31.5,419.3 L32.0,417.6 L32.5,412.8 L33.0,409.6 L33.5,406.7 L34.0,407.4 L34.5,405.8 L35.0,404.5 L35.5,401.5 L36.0,404.6 L36.5,400.1 L37.0,400.2 L37.5,398.0 L38.0,399.0 L38.5,399.9 L39.0,395.5 L39.5,397.3 L40.0,391.8 L40.5,395.3 L41.0,391.0 L41.5,392.9 L42.0,391.9 L42.5,388.4 L43.0,389.8 L43.5,391.6 L44.0,393.5 L44.5,394.0 L45.0,390.6 L45.5,393.5 L46.0,394.8 L46.5,394.2 L47.0,397.8 L47.5,396.9 L48.0,402.8 L48.5,404.8 L49.0,404.5 L49.5,406.3 L50.0,408.4 L50.5,408.8 L51.0,410.5 L51.5,413.6 L52.0,417.4 L52.5,418.2 L53.0,419.3 L53.5,422.5 L54.0,422.4 L54.5,425.1 L55.0,428.9 L55.5,430.7 L56.0,433.1 L56.5,433.5 L57.0,435.7 L57.5,437.2 L58.0,439.6 L58.5,441.4 L59.0,443.4 L59.5,446.2 L60.0,446.8 L60.5,449.0 L61.0,450.4 L61.5,451.3 L62.0,452.5 L62.5,453.4 L63.0,454.6 L63.5,456.5 L64.0,457.3 L64.5,458.0 L65.0,458.7 L65.5,459.6 L66.0,460.6 L66.5,461.8 L67.0,462.6 L67.5,463.6 L68.0,463.9 L68.5,464.6 L69.0,465.1 L69.5,465.3 L70.0,465.8 L70.5,465.9 L71.0,466.5 L71.5,466.9 L72.0,466.9 L72.5,467.4 L73.0,468.0 L73.5,467.9 L74.0,468.3 L74.5,468.6 L75.0,468.6 L75.5,469.2 L76.0,469.4 L76.5,469.3 L77.0,469.3 L77.5,469.4 L78.0,469.4 L78.5,469.4 L78.5,470.4 Z" fill="#343434" stroke="#343434" stroke-width="0.5"/>
<path d="M37.9,469.4 L38.6,469.2 L39.3,469.4 L40.0,469.0 L40.7,469.1 L41.4,469.1 L42.1,468.8 L42.8,468.8 L43.5,468.5 L44.2,468.3 L44.9,468.6 L45.6,468.5 L46.3,468.3 L47.0,467.9 L47.7,468.2 L48.4,467.6 L49.1,467.8 L49.8,467.3 L50.5,467.0 L51.2,466.9 L51.9,466.6 L52.6,466.2 L53.3,466.3 L54.0,466.1 L54.7,465.4 L55.4,465.2 L56.1,464.8 L56.8,464.4 L57.5,464.2 L58.2,463.7 L58.9,463.5 L59.6,462.6 L60.3,462.3 L61.0,461.8 L61.7,461.2 L62.4,460.6 L63.1,459.9 L63.8,459.1 L64.5,458.5 L65.2,457.0 L65.9,456.7 L66.6,455.2 L67.3,453.7 L68.0,452.9 L68.7,450.3 L69.4,448.9 L70.1,446.8 L70.8,445.2 L71.5,444.1 L72.2,442.7 L72.9,441.9 L73.6,439.2 L74.3,438.8 L75.0,436.8 L75.7,434.9 L76.4,433.6 L77.1,430.8 L77.8,429.6 L78.5,428.8 L79.2,426.7 L79.9,424.9 L80.6,425.6 L81.3,425.1 L82.0,420.8 L82.7,420.8 L83.4,420.5 L84.1,416.5 L84.8,418.0 L85.5,414.0 L86.2,413.1 L86.9,412.6 L87.6,411.4 L88.3,408.5 L89.0,403.2 L89.7,403.8 L90.4,399.7 L91.1,399.1 L91.8,397.9 L92.5,394.4 L93.2,393.0 L93.9,393.0 L94.6,393.8 L95.3,390.6 L96.0,387.8 L96.7,385.8 L97.4,386.1 L98.1,385.1 L98.8,382.5 L99.5,384.4 L100.2,386.7 L100.9,383.6 L101.6,390.6 L102.3,388.1 L103.0,393.5 L103.7,394.5 L104.4,395.9 L105.1,403.2 L105.8,406.8 L106.5,411.0 L107.2,414.3 L107.9,417.7 L108.6,423.1 L109.3,427.2 L110.0,433.2 L110.7,435.9 L111.4,441.6 L112.1,444.2 L112.8,447.4 L113.5,450.6 L114.2,453.6 L114.9,456.8 L115.6,458.8 L116.3,460.9 L117.0,462.3 L117.7,464.0 L118.4,464.6 L119.1,466.2 L119.8,466.7 L120.5,467.3 L121.2,467.9 L121.9,467.9 L122.6,468.1 L123.3,468.2 L124.0,468.7 L124.7,468.6 L125.4,469.1 L126.1,469.2 L126.8,469.3 L127.5,469.1 L128.2,469.4 L128.9,469.3 L129.6,469.4 L130.3,469.1 L131.0,469.2 L131.7,469.2 L132.4,469.4 L133.1,469.4 L133.8,469.4 L134.5,469.2 L135.2,469.4 L135.9,469.1 L136.6,469.1 L137.3,469.2 L138.0,469.3 L138.7,469.3 L139.4,469.2 L140.1,469.1 L140.8,469.4 L141.5,469.3 L142.2,469.2 L142.9,469.3 L143.6,469.4 L144.3,469.2 L145.0,469.4 L145.7,469.3 L146.4,469.4 L147.1,469.4 L147.8,469.3 L148.5,469.4 L149.2,469.4 L149.9,469.4 L150.6,469.3 L151.3,469.4 L152.0,469.4 L152.7,469.4 L153.4,469.3 L154.1,469.4 L154.8,469.4 L155.5,469.4 L156.2,469.4 L156.9,469.3 L157.6,469.3 L158.3,469.4 L159.0,469.4 L159.7,469.4 L160.4,469.4 L161.1,469.4 L161.8,469.4 L162.5,469.4 L163.2,469.4 L163.9,469.4 L164.6,469.4 L165.3,469.4 L166.0,469.4 L166.7,469.4 L167.4,469.4 L168.1,469.4 L168.8,469.4 L169.5,469.3 L170.2,469.4 L170.9,469.4 L171.6,469.4 L172.3,469.4 L173.0,469.4 L173.7,469.4 L174.4,469.3 L175.1,469.4 L175.8,469.4 L176.5,469.4 L177.2,469.4 L177.9,469.4 L178.6,469.4 L179.3,469.3 L180.0,469.4 L180.7,469.4 L181.4,469.4 L182.1,469.4 L182.8,469.3 L183.5,469.4 L184.2,469.4 L184.9,469.4 L185.6,469.4 L186.3,469.4 L187.0,469.4 L187.7,469.4 L188.4,469.4 L189.1,469.4 L189.8,469.4 L190.5,469.4 L191.2,469.4 L191.9,469.4 L192.6,469.4 L193.3,469.4 L194.0,469.4 L194.7,469.4 L195.4,469.4 L196.1,469.4 L196.8,469.4 L197.5,469.4 L198.2,469.4 L198.9,469.4 L199.6,469.4 L200.3,469.4 L201.0,469.4 L201.7,469.4 L202.4,469.4 L203.1,469.4 L203.8,469.4 L204.5,469.4 L205.2,469.4 L205.9,469.4" fill="none" stroke="#8e8e8e" stroke-width="0.8" stroke-linejoin="round" opacity="0.22"/>
<path d="M31.9,468.9 L31.6,420.6 L32.2,420.3 L32.8,419.0 L33.4,415.2 L34.0,415.8 L34.6,414.3 L35.2,409.5 L35.8,409.3 L36.4,404.5 L37.0,406.5 L37.6,404.9 L38.2,399.0 L38.8,401.6 L39.4,395.9 L40.0,393.7 L40.6,393.7 L41.2,392.4 L41.8,390.0 L42.4,391.8 L43.0,390.2 L43.6,389.7 L44.2,388.4 L44.8,389.6 L45.4,389.5 L46.0,390.1 L46.6,389.5 L47.2,386.5 L47.8,389.5 L48.4,387.9 L49.0,387.8 L49.6,388.5 L50.2,393.9 L50.8,394.8 L51.4,398.5 L52.0,399.0 L52.6,399.9 L53.2,404.5 L53.8,407.6 L54.4,409.1 L55.0,411.3 L55.6,412.1 L56.2,414.1 L56.8,418.7 L57.4,421.4 L58.0,424.6 L58.6,425.0 L59.2,427.0 L59.8,429.5 L60.4,433.3 L61.0,434.4 L61.6,437.5 L62.2,440.5 L62.8,442.5 L63.4,445.0 L64.0,445.9 L64.6,448.9 L65.2,450.7 L65.8,451.6 L66.4,454.7 L67.0,455.5 L67.6,457.6 L68.2,458.7 L68.8,460.1 L69.4,461.0 L70.0,462.6 L70.6,463.8 L71.2,464.4 L71.8,465.7 L72.4,466.0 L73.0,467.0 L73.6,467.3 L74.2,467.8 L74.8,467.9 L75.4,468.5 L76.0,468.5 L76.6,469.1 L77.2,469.0 L77.8,469.4 L78.4,469.4 L79.0,469.4 L79.6,469.4" fill="none" stroke="#d2d2d2" stroke-width="1.15" stroke-linejoin="round"/>
<path d="M30.8,353.8 H207.2 V470.4" fill="none" stroke="#5a5a5a" stroke-width="0.9"/>
<path d="M30.8,353.40000000000003 V470.4 H207.6" fill="none" stroke="#2e2e2e" stroke-width="1.15"/>
<path d="M30.8,470.4 v3.0 M44.1,470.4 v1.7 M51.8,470.4 v1.7 M57.4,470.4 v1.7 M61.6,470.4 v1.7 M65.1,470.4 v1.7 M68.1,470.4 v1.7 M70.6,470.4 v1.7 M72.9,470.4 v1.7 M74.9,470.4 v3.0 M88.2,470.4 v1.7 M95.9,470.4 v1.7 M101.5,470.4 v1.7 M105.7,470.4 v1.7 M109.2,470.4 v1.7 M112.2,470.4 v1.7 M114.7,470.4 v1.7 M117.0,470.4 v1.7 M119.0,470.4 v3.0 M132.3,470.4 v1.7 M140.0,470.4 v1.7 M145.6,470.4 v1.7 M149.8,470.4 v1.7 M153.3,470.4 v1.7 M156.3,470.4 v1.7 M158.8,470.4 v1.7 M161.1,470.4 v1.7 M163.1,470.4 v3.0 M176.4,470.4 v1.7 M184.1,470.4 v1.7 M189.7,470.4 v1.7 M193.9,470.4 v1.7 M197.4,470.4 v1.7 M200.4,470.4 v1.7 M202.9,470.4 v1.7 M205.2,470.4 v1.7 M207.2,470.4 v3.0" stroke="#333" stroke-width="0.7" fill="none"/>
<path d="M30.8,470.4 h-2.6 M30.8,465.3 h-1.7 M30.8,460.3 h-1.7 M30.8,455.2 h-1.7 M30.8,450.2 h-2.6 M30.8,445.1 h-1.7 M30.8,440.1 h-1.7 M30.8,435.0 h-1.7 M30.8,430.0 h-2.6 M30.8,424.9 h-1.7 M30.8,419.9 h-1.7 M30.8,414.8 h-1.7 M30.8,409.8 h-2.6 M30.8,404.7 h-1.7 M30.8,399.7 h-1.7 M30.8,394.6 h-1.7 M30.8,389.6 h-2.6 M30.8,384.5 h-1.7 M30.8,379.5 h-1.7 M30.8,374.4 h-1.7 M30.8,369.4 h-2.6 M30.8,364.3 h-1.7 M30.8,359.3 h-1.7 M30.8,354.2 h-1.7 M30.8,353.8 h-2.6" stroke="#333" stroke-width="0.7" fill="none"/>
<text class="tr" x="113.8" y="367.7" font-size="11.35">Solid: Control IgG</text>
<text class="tr" x="113.8" y="388.3" font-size="11.35">Line: Mock/P815</text>
<text class="tr" x="113.8" y="408.6" font-size="11.35">Dot:  B7-DC/P815</text>
<path d="M236.6,470.1 L237.3,469.8 L238.0,469.8 L238.7,469.4 L239.4,469.1 L240.1,469.1 L240.8,468.9 L241.5,468.3 L242.2,468.5 L242.9,467.8 L243.6,467.8 L244.3,467.7 L245.0,467.4 L245.7,466.9 L246.4,467.0 L247.1,466.5 L247.8,466.2 L248.5,465.7 L249.2,465.3 L249.9,464.3 L250.6,464.0 L251.3,463.3 L252.0,462.7 L252.7,462.0 L253.4,461.3 L254.1,460.8 L254.8,460.0 L255.5,459.8 L256.2,458.4 L256.9,458.3 L257.6,457.0 L258.3,456.6 L259.0,454.5 L259.7,453.8 L260.4,453.0 L261.1,451.9 L261.8,451.0 L262.5,449.7 L263.2,449.5 L263.9,448.3 L264.6,447.2 L265.3,444.7 L266.0,443.7 L266.7,442.6 L267.4,441.2 L268.1,439.0 L268.8,436.4 L269.5,434.7 L270.2,432.8 L270.9,431.1 L271.6,427.8 L272.3,425.0 L273.0,425.0 L273.7,423.1 L274.4,420.5 L275.1,415.3 L275.8,414.0 L276.5,410.8 L277.2,407.6 L277.9,407.7 L278.6,405.6 L279.3,405.2 L280.0,401.5 L280.7,397.5 L281.4,395.4 L282.1,396.6 L282.8,394.7 L283.5,392.2 L284.2,391.0 L284.9,389.6 L285.6,391.3 L286.3,388.9 L287.0,389.9 L287.7,390.1 L288.4,389.2 L289.1,389.3 L289.8,392.5 L290.5,391.8 L291.2,392.1 L291.9,391.6 L292.6,395.2 L293.3,394.8 L294.0,397.0 L294.7,398.8 L295.4,400.0 L296.1,404.6 L296.8,406.8 L297.5,408.0 L298.2,413.5 L298.9,416.9 L299.6,420.5 L300.3,422.8 L301.0,424.5 L301.7,428.4 L302.4,431.4 L303.1,434.4 L303.8,439.0 L304.5,441.3 L305.2,444.8 L305.9,447.2 L306.6,449.6 L307.3,452.6 L308.0,454.4 L308.7,456.5 L309.4,458.3 L310.1,460.1 L310.8,461.6 L311.5,463.0 L312.2,464.1 L312.9,465.2 L313.6,465.5 L314.3,466.6 L315.0,466.7 L315.7,467.5 L316.4,468.0 L317.1,468.5 L317.8,468.8 L318.5,469.1 L319.2,469.3 L319.9,469.4 L320.6,469.6 L321.3,469.6 L322.0,469.7 L322.7,469.8 L323.4,470.1 L324.1,469.7 L324.8,469.8 L325.5,470.2 L326.2,470.2 L326.9,470.2 L327.6,469.9 L328.3,469.9 L329.0,470.2 L329.7,470.0 L330.4,469.9 L331.1,470.0 L331.8,470.2 L332.5,470.2 L333.2,470.0 L333.9,470.2 L334.6,470.2 L335.3,470.2 L336.0,470.2 L336.7,470.2 L337.4,470.2 L338.1,470.2 L338.8,470.2 L339.5,470.2 L340.2,470.0 L340.9,470.2 L341.6,470.2 L342.3,470.0 L343.0,470.1 L343.7,470.2 L344.4,470.1 L345.1,470.0 L345.8,470.1 L346.5,470.0 L347.2,470.1 L347.9,470.2 L348.6,470.1 L349.3,470.2 L350.0,470.2 L350.7,470.2 L351.4,470.2 L352.1,470.2 L352.8,470.2 L353.5,470.2 L354.2,470.2 L354.9,470.2 L355.6,470.2 L356.3,470.1 L357.0,470.2 L357.7,470.2 L358.4,470.2 L359.1,470.1 L359.8,470.2 L360.5,470.1 L361.2,470.2 L361.9,470.2 L362.6,470.2 L363.3,470.2 L364.0,470.2 L364.7,470.2 L365.4,470.2 L366.1,470.2 L366.8,470.2 L367.5,470.2 L368.2,470.2 L368.9,470.2 L369.6,470.1 L370.3,470.2 L371.0,470.2 L371.7,470.2 L372.4,470.2 L373.1,470.2 L373.8,470.2 L374.5,470.2 L375.2,470.1 L375.9,470.2 L376.6,470.2 L377.3,470.2 L378.0,470.2 L378.7,470.2 L379.4,470.2 L380.1,470.2 L380.8,470.2 L381.5,470.2 L382.2,470.2 L382.9,470.2 L383.6,470.2 L384.3,470.2 L385.0,470.2 L385.7,470.2 L386.4,470.2 L387.1,470.2 L387.8,470.2 L388.5,470.2 L389.2,470.2 L389.9,470.2 L390.6,470.2 L391.3,470.2 L392.0,470.2 L392.7,470.2 L393.4,470.2 L394.1,470.2 L394.8,470.2 L395.5,470.2 L396.2,470.2 L396.9,470.2 L397.6,470.2 L398.3,470.2 L399.0,470.2 L399.7,470.2 L400.4,470.2 L401.1,470.2 L401.8,470.2 L402.5,470.1 L403.2,470.2 L403.9,470.2 L404.6,470.2 L405.3,470.2 L406.0,470.2 L406.7,470.2 L407.4,470.2 L408.1,470.2 L408.8,470.2 L409.5,470.2 L410.2,470.2 L410.9,470.2 L411.6,470.2" fill="none" stroke="#8c8c8c" stroke-width="0.8" stroke-linejoin="round" stroke-dasharray="1.3 0.6"/>
<path d="M234.9,471.2 L234.9,421.7 L235.4,418.1 L235.9,416.1 L236.4,412.2 L236.9,410.4 L237.4,408.9 L237.9,407.8 L238.4,403.5 L238.9,405.0 L239.4,403.9 L239.9,400.1 L240.4,399.0 L240.9,401.5 L241.4,400.2 L241.9,396.1 L242.4,395.1 L242.9,396.9 L243.4,392.2 L243.9,394.3 L244.4,391.2 L244.9,393.8 L245.4,389.6 L245.9,390.6 L246.4,390.7 L246.9,387.8 L247.4,390.6 L247.9,390.8 L248.4,392.2 L248.9,393.6 L249.4,392.0 L249.9,393.4 L250.4,399.3 L250.9,397.1 L251.4,399.3 L251.9,403.7 L252.4,405.3 L252.9,408.5 L253.4,407.6 L253.9,411.8 L254.4,412.4 L254.9,416.6 L255.4,416.0 L255.9,418.5 L256.4,420.9 L256.9,423.2 L257.4,426.4 L257.9,426.5 L258.4,428.1 L258.9,431.7 L259.4,432.8 L259.9,434.4 L260.4,436.6 L260.9,438.5 L261.4,441.3 L261.9,442.9 L262.4,445.5 L262.9,446.4 L263.4,447.9 L263.9,449.2 L264.4,450.4 L264.9,452.1 L265.4,452.5 L265.9,454.4 L266.4,456.1 L266.9,457.1 L267.4,457.8 L267.9,459.1 L268.4,459.9 L268.9,460.6 L269.4,461.8 L269.9,462.2 L270.4,463.1 L270.9,463.8 L271.4,464.4 L271.9,465.4 L272.4,465.5 L272.9,466.0 L273.4,466.2 L273.9,466.6 L274.4,466.8 L274.9,467.4 L275.4,467.7 L275.9,467.8 L276.4,468.4 L276.9,468.8 L277.4,468.7 L277.9,469.3 L278.4,469.2 L278.9,469.6 L279.4,469.7 L279.9,469.9 L280.4,469.8 L280.9,470.2 L281.4,470.2 L281.9,470.2 L282.4,470.2 L282.9,470.2 L282.9,471.2 Z" fill="#343434" stroke="#343434" stroke-width="0.5"/>
<path d="M236.6,470.1 L237.3,469.8 L238.0,469.8 L238.7,469.4 L239.4,469.1 L240.1,469.1 L240.8,468.9 L241.5,468.3 L242.2,468.5 L242.9,467.8 L243.6,467.8 L244.3,467.7 L245.0,467.4 L245.7,466.9 L246.4,467.0 L247.1,466.5 L247.8,466.2 L248.5,465.7 L249.2,465.3 L249.9,464.3 L250.6,464.0 L251.3,463.3 L252.0,462.7 L252.7,462.0 L253.4,461.3 L254.1,460.8 L254.8,460.0 L255.5,459.8 L256.2,458.4 L256.9,458.3 L257.6,457.0 L258.3,456.6 L259.0,454.5 L259.7,453.8 L260.4,453.0 L261.1,451.9 L261.8,451.0 L262.5,449.7 L263.2,449.5 L263.9,448.3 L264.6,447.2 L265.3,444.7 L266.0,443.7 L266.7,442.6 L267.4,441.2 L268.1,439.0 L268.8,436.4 L269.5,434.7 L270.2,432.8 L270.9,431.1 L271.6,427.8 L272.3,425.0 L273.0,425.0 L273.7,423.1 L274.4,420.5 L275.1,415.3 L275.8,414.0 L276.5,410.8 L277.2,407.6 L277.9,407.7 L278.6,405.6 L279.3,405.2 L280.0,401.5 L280.7,397.5 L281.4,395.4 L282.1,396.6 L282.8,394.7 L283.5,392.2 L284.2,391.0 L284.9,389.6 L285.6,391.3 L286.3,388.9 L287.0,389.9 L287.7,390.1 L288.4,389.2 L289.1,389.3 L289.8,392.5 L290.5,391.8 L291.2,392.1 L291.9,391.6 L292.6,395.2 L293.3,394.8 L294.0,397.0 L294.7,398.8 L295.4,400.0 L296.1,404.6 L296.8,406.8 L297.5,408.0 L298.2,413.5 L298.9,416.9 L299.6,420.5 L300.3,422.8 L301.0,424.5 L301.7,428.4 L302.4,431.4 L303.1,434.4 L303.8,439.0 L304.5,441.3 L305.2,444.8 L305.9,447.2 L306.6,449.6 L307.3,452.6 L308.0,454.4 L308.7,456.5 L309.4,458.3 L310.1,460.1 L310.8,461.6 L311.5,463.0 L312.2,464.1 L312.9,465.2 L313.6,465.5 L314.3,466.6 L315.0,466.7 L315.7,467.5 L316.4,468.0 L317.1,468.5 L317.8,468.8 L318.5,469.1 L319.2,469.3 L319.9,469.4 L320.6,469.6 L321.3,469.6 L322.0,469.7 L322.7,469.8 L323.4,470.1 L324.1,469.7 L324.8,469.8 L325.5,470.2 L326.2,470.2 L326.9,470.2 L327.6,469.9 L328.3,469.9 L329.0,470.2 L329.7,470.0 L330.4,469.9 L331.1,470.0 L331.8,470.2 L332.5,470.2 L333.2,470.0 L333.9,470.2 L334.6,470.2 L335.3,470.2 L336.0,470.2 L336.7,470.2 L337.4,470.2 L338.1,470.2 L338.8,470.2 L339.5,470.2 L340.2,470.0 L340.9,470.2 L341.6,470.2 L342.3,470.0 L343.0,470.1 L343.7,470.2 L344.4,470.1 L345.1,470.0 L345.8,470.1 L346.5,470.0 L347.2,470.1 L347.9,470.2 L348.6,470.1 L349.3,470.2 L350.0,470.2 L350.7,470.2 L351.4,470.2 L352.1,470.2 L352.8,470.2 L353.5,470.2 L354.2,470.2 L354.9,470.2 L355.6,470.2 L356.3,470.1 L357.0,470.2 L357.7,470.2 L358.4,470.2 L359.1,470.1 L359.8,470.2 L360.5,470.1 L361.2,470.2 L361.9,470.2 L362.6,470.2 L363.3,470.2 L364.0,470.2 L364.7,470.2 L365.4,470.2 L366.1,470.2 L366.8,470.2 L367.5,470.2 L368.2,470.2 L368.9,470.2 L369.6,470.1 L370.3,470.2 L371.0,470.2 L371.7,470.2 L372.4,470.2 L373.1,470.2 L373.8,470.2 L374.5,470.2 L375.2,470.1 L375.9,470.2 L376.6,470.2 L377.3,470.2 L378.0,470.2 L378.7,470.2 L379.4,470.2 L380.1,470.2 L380.8,470.2 L381.5,470.2 L382.2,470.2 L382.9,470.2 L383.6,470.2 L384.3,470.2 L385.0,470.2 L385.7,470.2 L386.4,470.2 L387.1,470.2 L387.8,470.2 L388.5,470.2 L389.2,470.2 L389.9,470.2 L390.6,470.2 L391.3,470.2 L392.0,470.2 L392.7,470.2 L393.4,470.2 L394.1,470.2 L394.8,470.2 L395.5,470.2 L396.2,470.2 L396.9,470.2 L397.6,470.2 L398.3,470.2 L399.0,470.2 L399.7,470.2 L400.4,470.2 L401.1,470.2 L401.8,470.2 L402.5,470.1 L403.2,470.2 L403.9,470.2 L404.6,470.2 L405.3,470.2 L406.0,470.2 L406.7,470.2 L407.4,470.2 L408.1,470.2 L408.8,470.2 L409.5,470.2 L410.2,470.2 L410.9,470.2 L411.6,470.2" fill="none" stroke="#8e8e8e" stroke-width="0.8" stroke-linejoin="round" opacity="0.22"/>
<path d="M234.7,469.7 L235.0,422.5 L235.6,420.1 L236.2,420.4 L236.8,418.6 L237.4,414.8 L238.0,412.2 L238.6,409.3 L239.2,410.1 L239.8,406.4 L240.4,406.9 L241.0,405.5 L241.6,401.2 L242.2,402.5 L242.8,396.4 L243.4,398.8 L244.0,397.0 L244.6,394.1 L245.2,391.5 L245.8,392.5 L246.4,391.6 L247.0,390.0 L247.6,387.3 L248.2,387.0 L248.8,387.9 L249.4,391.2 L250.0,389.6 L250.6,388.9 L251.2,390.2 L251.8,387.3 L252.4,387.4 L253.0,393.1 L253.6,392.0 L254.2,395.4 L254.8,393.6 L255.4,396.1 L256.0,398.1 L256.6,403.2 L257.2,404.5 L257.8,407.9 L258.4,407.2 L259.0,410.8 L259.6,413.6 L260.2,415.0 L260.8,419.9 L261.4,419.0 L262.0,422.0 L262.6,426.6 L263.2,426.9 L263.8,432.1 L264.4,434.6 L265.0,434.5 L265.6,438.4 L266.2,440.0 L266.8,442.0 L267.4,445.2 L268.0,447.7 L268.6,449.1 L269.2,451.9 L269.8,452.8 L270.4,454.7 L271.0,456.8 L271.6,458.5 L272.2,459.3 L272.8,460.9 L273.4,462.6 L274.0,462.9 L274.6,464.5 L275.2,465.0 L275.8,466.0 L276.4,466.6 L277.0,467.4 L277.6,468.0 L278.2,468.0 L278.8,468.5 L279.4,468.6 L280.0,469.1 L280.6,469.3 L281.2,469.4 L281.8,469.8 L282.4,469.8 L283.0,470.1 L283.6,470.2 L284.2,470.0 L284.8,470.2" fill="none" stroke="#d2d2d2" stroke-width="1.15" stroke-linejoin="round"/>
<path d="M233.6,353.6 H412.3 V471.2" fill="none" stroke="#5a5a5a" stroke-width="0.9"/>
<path d="M233.6,353.20000000000005 V471.2 H412.7" fill="none" stroke="#2e2e2e" stroke-width="1.15"/>
<path d="M233.6,471.2 v3.0 M247.0,471.2 v1.7 M254.9,471.2 v1.7 M260.5,471.2 v1.7 M264.8,471.2 v1.7 M268.4,471.2 v1.7 M271.4,471.2 v1.7 M273.9,471.2 v1.7 M276.2,471.2 v1.7 M278.3,471.2 v3.0 M291.7,471.2 v1.7 M299.6,471.2 v1.7 M305.2,471.2 v1.7 M309.5,471.2 v1.7 M313.0,471.2 v1.7 M316.0,471.2 v1.7 M318.6,471.2 v1.7 M320.9,471.2 v1.7 M322.9,471.2 v3.0 M336.4,471.2 v1.7 M344.3,471.2 v1.7 M349.8,471.2 v1.7 M354.2,471.2 v1.7 M357.7,471.2 v1.7 M360.7,471.2 v1.7 M363.3,471.2 v1.7 M365.6,471.2 v1.7 M367.6,471.2 v3.0 M381.1,471.2 v1.7 M388.9,471.2 v1.7 M394.5,471.2 v1.7 M398.9,471.2 v1.7 M402.4,471.2 v1.7 M405.4,471.2 v1.7 M408.0,471.2 v1.7 M410.3,471.2 v1.7 M412.3,471.2 v3.0" stroke="#333" stroke-width="0.7" fill="none"/>
<path d="M233.6,471.2 h-2.6 M233.6,466.1 h-1.7 M233.6,461.1 h-1.7 M233.6,456.0 h-1.7 M233.6,451.0 h-2.6 M233.6,445.9 h-1.7 M233.6,440.9 h-1.7 M233.6,435.8 h-1.7 M233.6,430.8 h-2.6 M233.6,425.7 h-1.7 M233.6,420.7 h-1.7 M233.6,415.6 h-1.7 M233.6,410.6 h-2.6 M233.6,405.5 h-1.7 M233.6,400.5 h-1.7 M233.6,395.4 h-1.7 M233.6,390.4 h-2.6 M233.6,385.3 h-1.7 M233.6,380.3 h-1.7 M233.6,375.2 h-1.7 M233.6,370.2 h-2.6 M233.6,365.1 h-1.7 M233.6,360.1 h-1.7 M233.6,355.0 h-1.7 M233.6,353.6 h-2.6" stroke="#333" stroke-width="0.7" fill="none"/>
<text class="tr" x="302.9" y="371" font-size="11.35">Solid: Control IgG</text>
<text class="tr" x="302.9" y="391.5" font-size="11.35">Line: Mock/P815</text>
<text class="tr" x="302.9" y="411.8" font-size="11.35">Dot: B7-DC/H1/P815</text>
<text class="tb" x="439.2" y="279.5" font-size="10.8">Anti-B7-DC</text>
<text class="tb" x="437.5" y="415.6" font-size="10.85">PD-1Ig</text>
</svg></body></html>
